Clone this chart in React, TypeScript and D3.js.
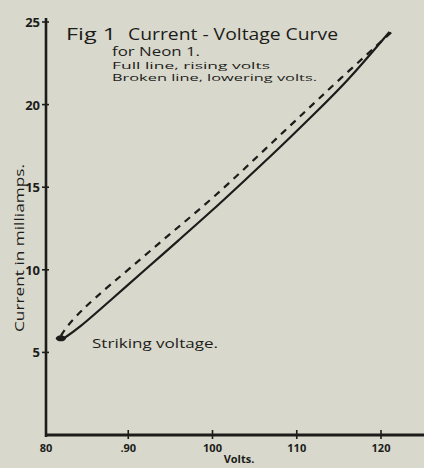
import React from "react";
import * as d3 from "d3";

const risingVolts = [82.2, 84, 88, 92, 96, 100, 104, 108, 112, 116, 121];
const risingCurrent = [5.8, 6.4, 8.2, 10.0, 11.8, 13.6, 15.5, 17.4, 19.4, 21.4, 24.4];
const loweringVolts = [82.0, 83, 86, 90, 95, 100, 105, 110, 115, 121.5];
const loweringCurrent = [6.0, 6.8, 8.3, 10.0, 12.2, 14.3, 16.7, 19.1, 21.5, 24.5];
const xTicks = [80, 90, 100, 110, 120];
const xTickLabels = ["80", ".90", "100", "110", "120"];
const yTicks = [5, 10, 15, 20, 25];
const strikingPoint = [82.0, 5.85];

const W = 424;
const H = 468;

export default function App() {
  const x = d3.scaleLinear().domain([80, 120]).range([44, 381]);
  const y = d3.scaleLinear().domain([0, 25]).range([435, 22]);
  const line = d3
    .line<[number, number]>()
    .x((d) => x(d[0]))
    .y((d) => y(d[1]))
    .curve(d3.curveBasis);
  const rising = risingVolts.map((v, i) => [v, risingCurrent[i]] as [number, number]);
  const lowering = loweringVolts.map((v, i) => [v, loweringCurrent[i]] as [number, number]);
  const ink = "#1c1c1a";
  const font = "'Open Sans', 'DejaVu Sans', sans-serif";
  const axisX = 46;
  const axisY = y(0);
  return (
    <svg
      width={W}
      height={H}
      style={{ position: "absolute", left: 0, top: 0 }}
      fontFamily={font}
    >
      <rect width={W} height={H} fill="#d8d8cc" />
      {/* axes */}
      <line x1={axisX} y1={18} x2={axisX} y2={axisY + 2} stroke={ink} strokeWidth={2.6} />
      <line x1={axisX - 1} y1={axisY} x2={W} y2={axisY} stroke={ink} strokeWidth={3} />
      {/* y ticks */}
      {yTicks.map((t) => (
        <g key={"y" + t}>
          <line x1={axisX - 4} x2={axisX + 3} y1={y(t)} y2={y(t)} stroke={ink} strokeWidth={1.6} />
          <text
            x={axisX - 6}
            y={y(t) + 5}
            textAnchor="end"
            fontSize={13}
            fontWeight={700}
            fill={ink}
          >
            {t}
          </text>
        </g>
      ))}
      {/* x ticks */}
      {xTicks.map((t, i) => (
        <g key={"x" + t}>
          {i > 0 && (
            <line x1={x(t)} x2={x(t)} y1={axisY - 5} y2={axisY + 4} stroke={ink} strokeWidth={1.6} />
          )}
          <text
            x={x(t) + (i === 0 ? 2 : 0)}
            y={axisY + 17}
            textAnchor="middle"
            fontSize={11}
            fontWeight={700}
            fill={ink}
          >
            {xTickLabels[i]}
          </text>
        </g>
      ))}
      {/* curves */}
      <path d={line(lowering) || ""} fill="none" stroke={ink} strokeWidth={2.2} strokeDasharray="7,6" />
      <path d={line(rising) || ""} fill="none" stroke={ink} strokeWidth={2.2} />
      {/* striking voltage marker */}
      <ellipse cx={x(strikingPoint[0])} cy={y(strikingPoint[1])} rx={5} ry={3} fill={ink} />
      <text x={92} y={348} fontSize={12} textLength={126} lengthAdjust="spacingAndGlyphs" fill={ink}>
        Striking voltage.
      </text>
      {/* titles */}
      <text x={66} y={40} fontSize={16} textLength={50} lengthAdjust="spacingAndGlyphs" fill={ink}>
        Fig 1
      </text>
      <text x={128} y={40} fontSize={16} textLength={210} lengthAdjust="spacingAndGlyphs" fill={ink}>
        Current - Voltage Curve
      </text>
      <text x={112} y={56} fontSize={12} textLength={88} lengthAdjust="spacingAndGlyphs" fill={ink}>
        for Neon 1.
      </text>
      <text x={112} y={68.5} fontSize={9} textLength={158} lengthAdjust="spacingAndGlyphs" fill={ink}>
        Full line, rising volts
      </text>
      <text x={112} y={81} fontSize={9} textLength={205} lengthAdjust="spacingAndGlyphs" fill={ink}>
        Broken line, lowering volts.
      </text>
      {/* axis labels */}
      <text
        transform={`translate(24, 248) rotate(-90)`}
        textAnchor="middle"
        fontSize={12}
        textLength={168}
        lengthAdjust="spacingAndGlyphs"
        fill={ink}
      >
        Current in milliamps.
      </text>
      <text x={239} y={463} textAnchor="middle" fontSize={11} fontWeight={700} fill={ink}>
        Volts.
      </text>
    </svg>
  );
}
